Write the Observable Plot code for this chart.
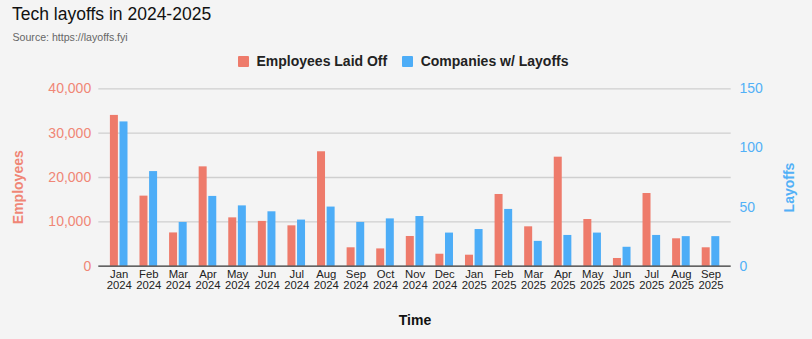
<!DOCTYPE html>
<html>
<head>
<meta charset="utf-8">
<script src="https://cdn.jsdelivr.net/npm/d3@7"></script>
<script src="https://cdn.jsdelivr.net/npm/@observablehq/plot@0.6"></script>
<style>
  html, body { margin: 0; padding: 0; background: #f4f4f4; width: 812px; height: 339px; overflow: hidden; }
  body { font-family: "Liberation Sans", Arial, sans-serif; }
  #header { position: relative; height: 75px; width: 812px; }
  #title { position: absolute; left: 12px; top: 4px; font-size: 17.5px; color: #111; white-space: nowrap; }
  #source { position: absolute; left: 12.5px; top: 31px; font-size: 10.6px; color: #666; white-space: nowrap; }
  #legend { position: absolute; left: 238px; top: 53px; display: flex; align-items: center; font-size: 14px; font-weight: bold; color: #222; white-space: nowrap; }
  .sw { width: 11px; height: 11px; display: inline-block; margin-right: 7.5px; border-radius: 1px; }
  .item { display: flex; align-items: center; margin-right: 15px; }
  #chart svg { display: block; }
</style>
</head>
<body>
<div id="header">
  <div id="title">Tech layoffs in 2024-2025</div>
  <div id="source">Source: https://layoffs.fyi</div>
  <div id="legend"></div>
</div>
<div id="chart"></div>
<script>
const months = ["Jan","Feb","Mar","Apr","May","Jun","Jul","Aug","Sep","Oct","Nov","Dec","Jan","Feb","Mar","Apr","May","Jun","Jul","Aug","Sep"];
const years = ["2024","2024","2024","2024","2024","2024","2024","2024","2024","2024","2024","2024","2025","2025","2025","2025","2025","2025","2025","2025","2025"];
const employees = [34000, 15800, 7500, 22400, 10900, 10100, 9100, 25800, 4150, 3900, 6700, 2700, 2480, 16170, 8880, 24580, 10530, 1740, 16390, 6180, 4150];
const companies = [122, 80, 37, 59, 51, 46, 39, 50, 37, 40, 42, 28, 31, 48, 21, 26, 28, 16, 26, 25, 25];
const leftTicks = [0, 10000, 20000, 30000, 40000];
const rightTicks = [0, 50, 100, 150];
const seriesNames = ["Employees Laid Off", "Companies w/ Layoffs"];

const RED = "#EE7B6B";
const BLUE = "#4DADF7";
const RED_TXT = "#F08676";
const BLUE_TXT = "#52B0F7";

const legend = document.getElementById("legend");
seriesNames.forEach((name, i) => {
  const it = document.createElement("div");
  it.className = "item";
  const sw = document.createElement("span");
  sw.className = "sw";
  sw.style.background = i === 0 ? RED : BLUE;
  it.appendChild(sw);
  it.appendChild(document.createTextNode(name));
  legend.appendChild(it);
});

const yMax = leftTicks[leftTicks.length - 1];
const rMax = rightTicks[rightTicks.length - 1];
const k = yMax / rMax;

const data = months.map((m, i) => ({key: m + "\n" + years[i], emp: employees[i], comp: companies[i]}));

const chart = Plot.plot({
  width: 812,
  height: 264,
  marginTop: 13.3,
  marginBottom: 73.3,
  marginLeft: 98.3,
  marginRight: 81.3,
  style: {background: "transparent", fontFamily: "Liberation Sans, Arial, sans-serif", fontSize: "11px", overflow: "visible"},
  x: {domain: data.map(d => d.key), range: [103.9, 725.3], padding: 0, round: false, axis: null},
  y: {domain: [0, yMax], axis: null},
  marks: [
    Plot.gridY(leftTicks.slice(1), {stroke: "#cfcfcf", strokeOpacity: 1, strokeWidth: 1.3}),
    Plot.barY(data, {x: "key", y: "emp", fill: RED, insetLeft: 6, insetRight: 15.6}),
    Plot.barY(data, {x: "key", y: d => d.comp * k, fill: BLUE, insetLeft: 15.6, insetRight: 6}),
    Plot.ruleY([0], {stroke: "#333", strokeWidth: 1.2}),
    Plot.axisY(leftTicks, {anchor: "left", tickSize: 0, tickPadding: 7.6, tickFormat: d3.format(","), fill: RED_TXT, fontSize: 14, label: null}),
    Plot.axisY(rightTicks.map(v => v * k), {anchor: "right", tickSize: 0, tickPadding: 8.3, tickFormat: d => String(Math.round(d / k)), fill: BLUE_TXT, fontSize: 14, label: null}),
    Plot.axisX({anchor: "bottom", tickSize: 0, tickPadding: 4, fontSize: 11.3, fill: "#222", label: null, lineHeight: 0.95}),
    Plot.text(["Employees"], {frameAnchor: "left", dx: -80, dy: 9.7, rotate: -90, fontSize: 14, fontWeight: "bold", fill: RED_TXT, textAnchor: "middle", lineAnchor: "middle"}),
    Plot.text(["Layoffs"], {frameAnchor: "right", dx: 58.6, dy: 10, rotate: -90, fontSize: 14, fontWeight: "bold", fill: BLUE_TXT, textAnchor: "middle", lineAnchor: "middle"}),
    Plot.text(["Time"], {frameAnchor: "bottom", dy: 54.3, fontSize: 14, fontWeight: "bold", fill: "#111", textAnchor: "middle", lineAnchor: "middle", dx: 0})
  ]
});
document.getElementById("chart").appendChild(chart);
</script>
</body>
</html>
